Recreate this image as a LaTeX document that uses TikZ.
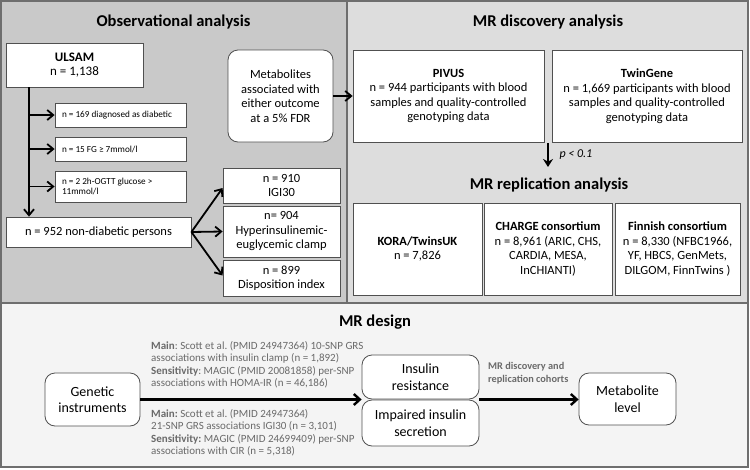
\documentclass[tikz,border=0pt]{standalone}
\usepackage{fontspec}
\setmainfont{Carlito}
\frenchspacing
\usetikzlibrary{arrows.meta,calc}
\definecolor{panelA}{HTML}{C9C9C9}
\definecolor{panelB}{HTML}{DDDDDD}
\definecolor{panelC}{HTML}{F4F4F4}
\definecolor{frame}{HTML}{6E6E6E}
\definecolor{boxline}{HTML}{505050}
\definecolor{graytext}{HTML}{6A6A6A}
\tikzset{
  panel/.style={draw=frame, line width=1.6pt},
  box/.style={draw=boxline, fill=white, line width=0.8pt, align=center, inner sep=1pt,
    font=\fontsize{12.5}{14.5}\selectfont},
  rbox/.style={box, rounded corners=10pt},
  smallbox/.style={draw=boxline, fill=white, line width=0.8pt, align=flush left, inner xsep=7pt,
    font=\fontsize{9.2}{10.5}\selectfont},
  title/.style={font=\fontsize{16.5}{18}\selectfont\bfseries},
  conn/.style={draw=black, line width=1.8pt, -{Straight Barb[length=6pt,width=10pt,line width=1.8pt]}},
  thickconn/.style={draw=black, line width=2.6pt, -{Straight Barb[length=6pt,width=11pt,line width=2.4pt]}},
  graynote/.style={text=graytext, align=left, inner sep=0pt, font=\fontsize{11}{12.5}\selectfont},
}
\begin{document}
\begin{tikzpicture}[x=1pt,y=-1pt]
\useasboundingbox (0,0) rectangle (750,469);
% panels
\fill[panelA] (1,1) rectangle (347,303);
\fill[panelB] (347,1) rectangle (748,303);
\fill[panelC] (1,303) rectangle (748,467);
\draw[panel] (1,1) rectangle (748,467);
\draw[panel] (347,1) -- (347,303);
\draw[panel] (1,303) -- (748,303);

% titles
\node[title] (t1) at (173.5,22) {Observational analysis};
\node[title] (t2) at (548,22) {MR discovery analysis};
\node[title] (t3) at (549,185) {MR replication analysis};
\node[title] (t4) at (375,322) {MR design};

% observational
\node[box, minimum width=137pt, minimum height=44pt, font=\fontsize{13}{14.5}\selectfont] (ulsam) at (74.5,65) {\textbf{ULSAM}\\n = 1,138};
\node[smallbox, minimum width=131pt, minimum height=24pt, text width=117pt] (d1) at (120.5,115) {n = 169 diagnosed as diabetic};
\node[smallbox, minimum width=131pt, minimum height=24pt, text width=117pt] (d2) at (120.5,149) {n = 15 FG ≥ 7mmol/l};
\node[smallbox, minimum width=131pt, minimum height=31pt, text width=117pt] (d3) at (120.5,186.5) {n = 2 2h-OGTT glucose >\\11mmol/l};
\node[box, minimum width=185pt, minimum height=30pt] (nd) at (98.5,232) {n = 952 non-diabetic persons};
\node[box, minimum width=117pt, minimum height=35pt] (igi) at (281.5,185.5) {n = 910\\IGI30};
\node[box, minimum width=117pt, minimum height=51pt] (clamp) at (281.5,231.5) {n= 904\\Hyperinsulinemic-\\euglycemic clamp};
\node[box, minimum width=117pt, minimum height=36pt] (disp) at (281.5,278) {n = 899\\Disposition index};

\coordinate (v1) at (ulsam.south -| 29,0);
\coordinate (v2) at (nd.north -| 29,0);
\draw[conn] (v1) -- (v2);
\draw[conn] (29,115) -- (d1.west);
\draw[conn] (29,149) -- (d2.west);
\draw[conn] (29,186.5) -- (d3.west);
\draw[conn] (nd.east) -- ($(igi.west)+(0,2.5)$);
\draw[conn] (nd.east) -- (clamp.west);
\draw[conn] (nd.east) -- ($(disp.west)+(0,-2.5)$);

% MR discovery
\node[rbox, minimum width=105pt, minimum height=92pt] (met) at (280.5,96) {Metabolites\\associated with\\either outcome\\at a 5\% FDR};
\node[box, minimum width=191pt, minimum height=92pt] (pivus) at (448.5,96) {\textbf{PIVUS}\\n = 944 participants with blood\\samples and quality-controlled\\genotyping data};
\node[box, minimum width=190pt, minimum height=92pt] (twin) at (647,96) {\textbf{TwinGene}\\n = 1,669 participants with blood\\samples and quality-controlled\\genotyping data};
\draw[conn] (met.east) -- (pivus.west);

\coordinate (p1) at (548,143);
\coordinate (p2) at (548,167);
\draw[line width=1.8pt, -{Stealth[length=8pt,width=10pt]}] (p1) -- (p2);
\node[anchor=west, font=\fontsize{12}{13}\selectfont\itshape] (pl) at (556,155) {p < 0.1};

% replication
\node[box, minimum width=129pt, minimum height=92pt] (kora) at (417.5,249) {\textbf{KORA/TwinsUK}\\n = 7,826};
\node[box, minimum width=128pt, minimum height=92pt] (charge) at (548,249) {\textbf{CHARGE consortium}\\n = 8,961 (ARIC, CHS,\\CARDIA, MESA,\\InCHIANTI)};
\node[box, minimum width=125pt, minimum height=92pt] (finn) at (677.5,249) {\textbf{Finnish consortium}\\n = 8,330 (NFBC1966,\\YF, HBCS, GenMets,\\DILGOM, FinnTwins )};

% MR design
\tikzset{bigbox/.style={rbox, font=\fontsize{14}{16.5}\selectfont}}
\node[bigbox, minimum width=95pt, minimum height=53pt] (gen) at (92.5,399.5) {Genetic\\instruments};
\node[bigbox, minimum width=117pt, minimum height=44pt] (ir) at (420.5,377) {Insulin\\resistance};
\node[bigbox, minimum width=117pt, minimum height=46pt] (iis) at (420.5,423) {Impaired insulin\\secretion};
\node[bigbox, minimum width=97pt, minimum height=52pt] (ml) at (627.5,399) {Metabolite\\level};
\coordinate (irj) at ($(ir.south west)!0.5!(iis.north west)$);
\coordinate (irk) at ($(ir.south east)!0.5!(iis.north east)$);
\draw[thickconn] (gen.east |- irj) -- (irj);
\draw[thickconn] (irk) -- (ml.west |- irk);
\node[graynote, anchor=west, font=\fontsize{10.3}{12.8}\selectfont\bfseries] (mrl) at (488,373.5) {MR discovery and\\replication cohorts};
\node[graynote, anchor=north west] (up) at (151,341) {\textbf{Main}: Scott et al. (PMID 24947364) 10-SNP GRS\\associations with insulin clamp (n = 1,892)\\\textbf{Sensitivity}: MAGIC (PMID 20081858) per-SNP\\associations with HOMA-IR (n = 46,186)};
\node[graynote, anchor=north west] (lo) at (151,409) {\textbf{Main:} Scott et al. (PMID 24947364)\\21-SNP GRS associations IGI30 (n = 3,101)\\\textbf{Sensitivity:} MAGIC (PMID 24699409) per-SNP\\associations with CIR (n = 5,318)};
\end{tikzpicture}
\end{document}
